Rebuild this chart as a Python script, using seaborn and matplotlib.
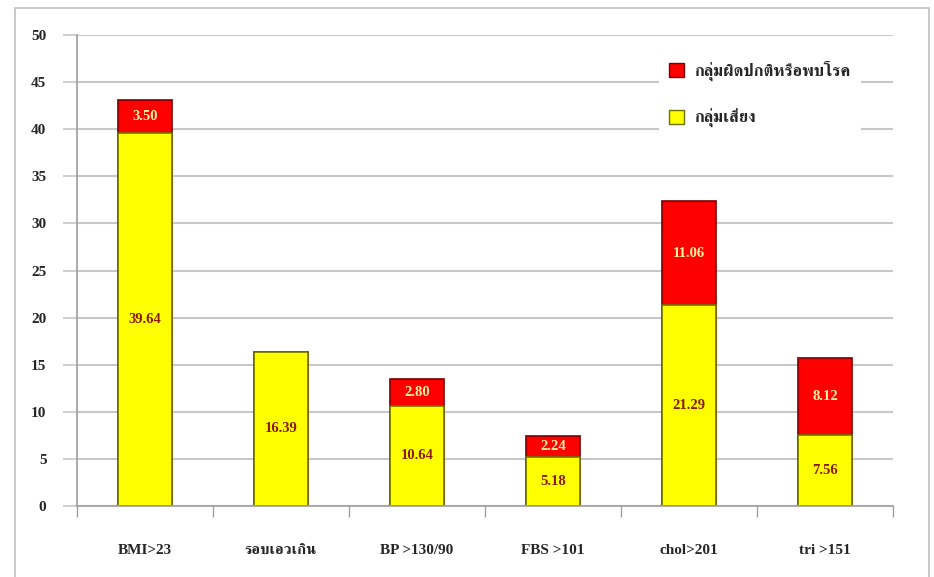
import matplotlib
matplotlib.use("Agg")
import matplotlib.pyplot as plt
from matplotlib.patches import Rectangle, Patch
from matplotlib.ticker import FixedLocator
import seaborn as sns
import pandas as pd

categories = ["BMI>23", "รอบเอวเกิน", "BP >130/90", "FBS >101", "chol>201", "tri >151"]
risk = [39.64, 16.39, 10.64, 5.18, 21.29, 7.56]
abnormal = [3.50, 0.0, 2.80, 2.24, 11.06, 8.12]
series_names = ["กลุ่มผิดปกติหรือพบโรค", "กลุ่มเสี่ยง"]
yticks = [0, 5, 10, 15, 20, 25, 30, 35, 40, 45, 50]

sns.set_theme(style="white")
FAM = ["Liberation Serif", "FreeSerif", "DejaVu Sans"]
plt.rcParams["font.family"] = FAM

RED, YEL = "#FF0000", "#FFFF00"
df = pd.DataFrame({"cat": categories, "risk": risk, "abn": abnormal})
df["total"] = df["risk"] + df["abn"]

fig = plt.figure(figsize=(9.34, 5.77), dpi=100)
fig.patches.append(Rectangle((15/934, -0.05), (929-15)/934, 1.05 - 8/577,
                             transform=fig.transFigure, fill=False,
                             edgecolor="#c0c0c0", linewidth=1.2))
ax = fig.add_axes([77/934, 1-506/577, (893-77)/934, (506-35)/577])
sns.barplot(data=df, x="cat", y="total", color=RED, width=0.4,
            edgecolor="#7a0000", linewidth=1.2, saturation=1, ax=ax)
sns.barplot(data=df, x="cat", y="risk", color=YEL, width=0.4,
            edgecolor="#707000", linewidth=1.2, saturation=1, ax=ax)
ax.set_ylim(0, 50)
ax.set_xlim(-0.5, 5.5)
ax.set_yticks(yticks)
ax.yaxis.grid(True, color="#c8c8c8", linewidth=1.5)
ax.set_axisbelow(True)
ax.set_xlabel(""); ax.set_ylabel("")
for s in ["top", "right"]:
    ax.spines[s].set_visible(False)
ax.spines["left"].set_color("#a0a0a0")
ax.spines["bottom"].set_color("#a0a0a0")
ax.tick_params(axis="y", length=10, color="#c8c8c8", labelsize=11, pad=12, left=True)
ax.tick_params(axis="x", which="major", length=0, labelsize=11, pad=27)
ax.xaxis.set_minor_locator(FixedLocator([i - 0.5 for i in range(len(categories) + 1)]))
ax.tick_params(axis="x", which="minor", length=8, color="#a0a0a0", width=1, bottom=True)
for lbl in ax.get_yticklabels() + ax.get_xticklabels():
    lbl.set_fontweight("bold")
    lbl.set_family(FAM)
for i in range(len(categories)):
    ax.text(i, risk[i]/2, f"{risk[i]:.2f}", ha="center", va="center",
            color="#8B1A00", fontsize=10.5, fontweight="bold")
    if abnormal[i] > 0:
        ax.text(i, risk[i] + abnormal[i]/2, f"{abnormal[i]:.2f}", ha="center", va="center",
                color="#FFF3A0", fontsize=10.5, fontweight="bold")

handles = [Patch(facecolor=RED, edgecolor="#7a0000", linewidth=1.0),
           Patch(facecolor=YEL, edgecolor="#707000", linewidth=1.0)]
leg = ax.legend(handles, series_names, loc="upper left",
                bbox_to_anchor=(651/934, 1-42/577), bbox_transform=fig.transFigure,
                frameon=True, facecolor="white", edgecolor="none", framealpha=1,
                handlelength=0.9, handleheight=0.9, handletextpad=0.6,
                labelspacing=1.7, borderpad=0.6, fancybox=False,
                prop={"family": FAM, "weight": "bold", "size": 12})
fig.savefig("out.png", dpi=100)
